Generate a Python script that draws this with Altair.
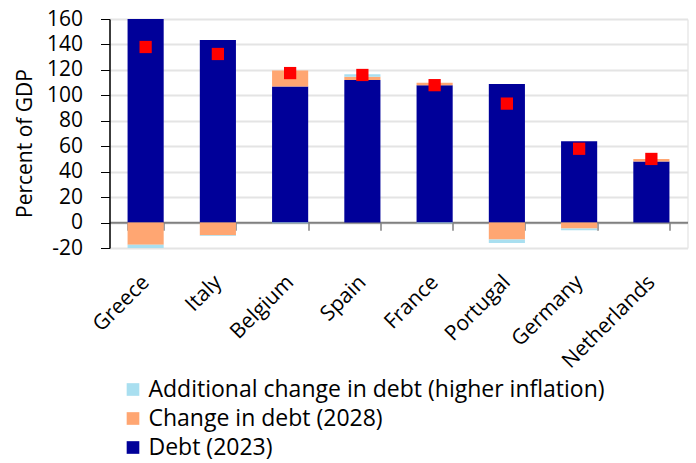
import altair as alt
import pandas as pd

countries = ["Greece", "Italy", "Belgium", "Spain", "France", "Portugal", "Germany", "Netherlands"]
debt_2023 = [160, 143.5, 107, 112, 108, 109, 64, 48]
change_2028 = [-17.5, -10, 12.5, 2.7, 1.9, -13.3, -4.7, 2]
additional = [-2.7, -0.6, -0.6, 1.8, -0.6, -2.7, -1.3, 0]
marker = [138, 132.5, 117.5, 116, 108, 93.5, 58, 50]
y_ticks = [-20, 0, 20, 40, 60, 80, 100, 120, 140, 160]

s_add = "Additional change in debt (higher inflation)"
s_chg = "Change in debt (2028)"
s_debt = "Debt (2023)"

rows = []
for i, c in enumerate(countries):
    rows.append({"country": c, "series": s_debt, "value": debt_2023[i], "ord": 0})
    rows.append({"country": c, "series": s_chg, "value": change_2028[i], "ord": 1})
    rows.append({"country": c, "series": s_add, "value": additional[i], "ord": 2})
df = pd.DataFrame(rows)
dm = pd.DataFrame({"country": countries, "marker": marker})

FONT = "Open Sans"
FS = 21

xscale = alt.Scale(domain=countries, paddingInner=0.5, paddingOuter=0.25)
yscale = alt.Scale(domain=[-20, 160], nice=False, zero=False)

xaxis = alt.Axis(title=None, orient="bottom", offset=-25.7,
                 labelAngle=-45, labelAlign="right", labelBaseline="middle",
                 labelPadding=48.5, tickBand="extent", tickSize=8,
                 tickColor="#808080", tickWidth=1.5,
                 domainColor="#808080", domainWidth=2,
                 labelFont=FONT, labelFontSize=FS, labelColor="black", grid=False)

yaxis = alt.Axis(title="Percent of GDP", values=y_ticks, tickCount=10,
                 labelExpr="toString(datum.value)",
                 grid=True, gridColor="#e4e4e4", gridWidth=2,
                 labelOverlap=False, labelSeparation=0,
                 domainColor="black", domainWidth=1.5, tickColor="black",
                 tickSize=9, labelPadding=18, labelFont=FONT, labelFontSize=FS,
                 labelColor="black", titleFont=FONT, titleFontSize=FS,
                 titleFontWeight="normal", titleColor="black",
                 titleX=-84, titleY=124, titleAlign="center", titleAngle=-90,
                 titleBaseline="middle")

bars = alt.Chart(df).mark_bar(clip=True).encode(
    x=alt.X("country:N", scale=xscale, sort=countries, axis=xaxis),
    y=alt.Y("value:Q", scale=yscale, stack="zero", axis=yaxis),
    color=alt.Color("series:N",
                    scale=alt.Scale(domain=[s_add, s_chg, s_debt],
                                    range=["#a9dff0", "#ffa672", "#000099"]),
                    legend=alt.Legend(title=None, orient="none", legendX=12, legendY=359,
                                      symbolType="square", symbolSize=160,
                                      labelFont=FONT, labelFontSize=FS + 2, labelColor="black",
                                      rowPadding=5, symbolOpacity=1, labelLimit=600,
                                      labelOffset=4)),
    order=alt.Order("ord:Q"),
)

markers = alt.Chart(dm).mark_square(size=150, color="#ff0000", opacity=1).encode(
    x=alt.X("country:N", scale=xscale, sort=countries, axis=xaxis),
    y=alt.Y("marker:Q", scale=yscale, axis=yaxis),
)

chart = alt.layer(bars, markers).properties(
    width=578, height=229,
    autosize=alt.AutoSizeParams(type="none"),
    padding={"left": 109.5, "top": 19, "right": 8, "bottom": 215},
).configure_view(strokeWidth=0, stroke="transparent").configure_axisY(
    labelOverlap=False
).configure(background="white")

chart.save("out.html", embed_options={"renderer": "svg", "actions": False})
